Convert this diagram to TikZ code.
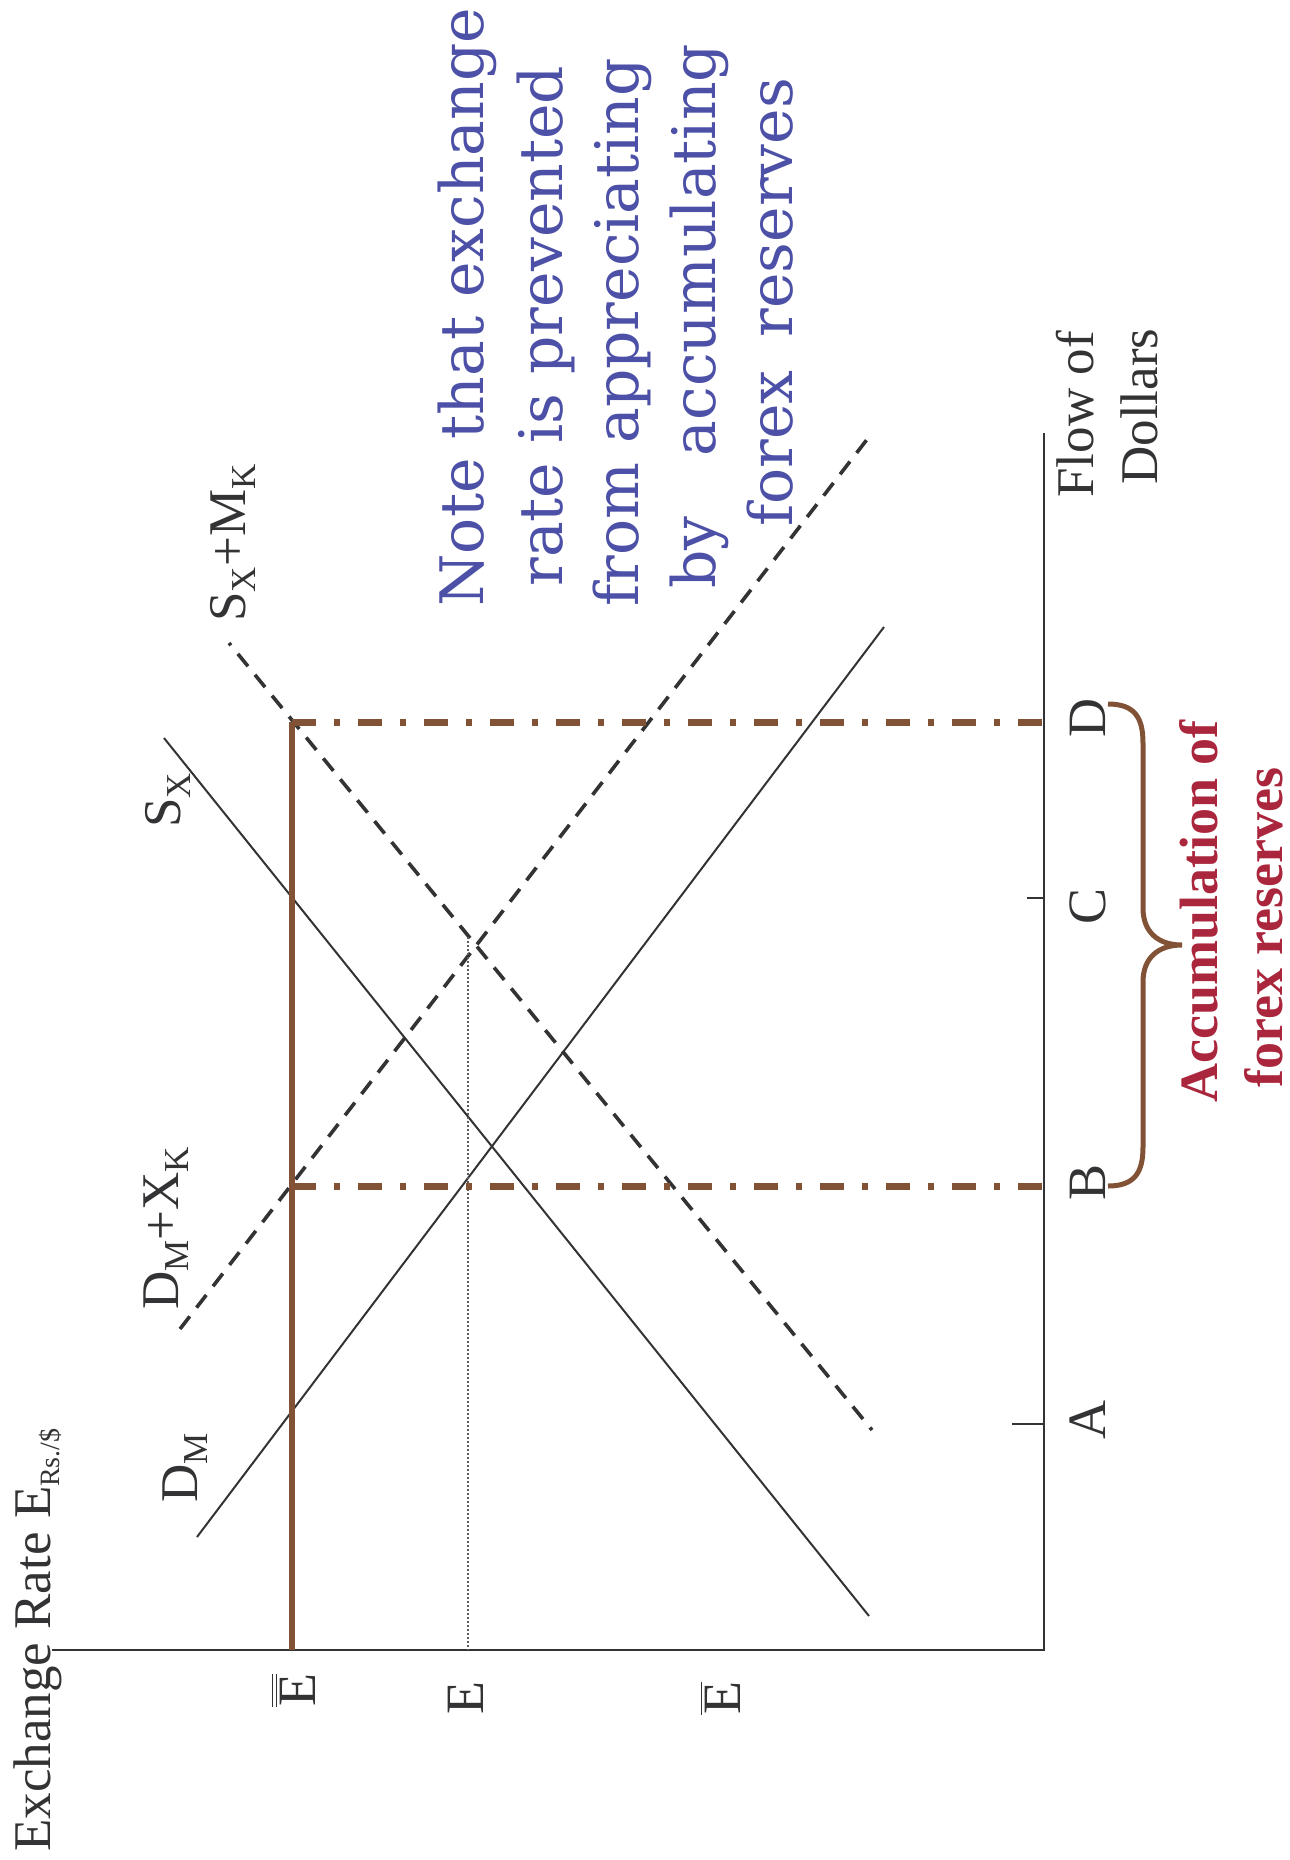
\documentclass[tikz,border=0pt]{standalone}
\usepackage{fontspec}
\setmainfont{Liberation Serif}
\newfontfamily\notefont{DejaVu Serif}
\usetikzlibrary{calc}
\definecolor{ink}{RGB}{51,51,53}
\definecolor{brn}{RGB}{130,82,54}
\definecolor{noteblue}{RGB}{76,80,166}
\definecolor{accred}{RGB}{170,38,60}
\newcommand{\lsub}[1]{\raisebox{-5pt}{\fontsize{17.5pt}{19pt}\selectfont #1}}
\newcommand{\ysub}[1]{\raisebox{-5pt}{\fontsize{14pt}{16pt}\selectfont #1}}
\begin{document}
\begin{tikzpicture}[x=0.5pt,y=-0.5pt,
  lbl/.style={rotate=90, anchor=base west, inner sep=0, text=ink, font=\fontsize{26.5pt}{32pt}\selectfont},
  tick/.style={rotate=90, anchor=base, inner sep=0, text=ink, font=\fontsize{27pt}{32pt}\selectfont},
  notel/.style={rotate=90, anchor=base west, inner sep=0, text=noteblue, font=\notefont\fontsize{30pt}{38pt}\selectfont},
  accl/.style={rotate=90, anchor=base west, inner sep=0, text=accred, font=\bfseries\fontsize{27pt}{32pt}\selectfont},
  axisline/.style={draw=ink, line width=1.1pt},
  curve/.style={draw=ink, line width=1pt},
  dcurve/.style={draw=ink, line width=1.8pt, dash pattern=on 8pt off 5.5pt},
  peg/.style={draw=brn, line width=3pt},
  dashdotbrn/.style={draw=brn, line width=3.5pt, dash pattern=on 12pt off 9pt on 3pt off 9pt},
  bracebrn/.style={draw=brn, line width=2.5pt},
  eqline/.style={draw=ink!80, line width=0.6pt, dash pattern=on 1pt off 1pt},
]
\useasboundingbox (0,0) rectangle (1290,1860);

% axes
\coordinate (O) at (1044,1650);
\coordinate (Xend) at (52,1650);
\coordinate (Yend) at (1044,433);
\draw[axisline] (Xend) -- (O) -- (Yend);
\coordinate (tA0) at (1012,1424); \coordinate (tA) at (1044,1424);
\coordinate (tC0) at (1027,898);  \coordinate (tC) at (1044,898);
\draw[axisline] (tA0) -- (tA);
\draw[axisline] (tC0) -- (tC);

% curves
\coordinate (dm1) at (197,1537);  \coordinate (dm2) at (884,627);
\coordinate (sx1) at (164,738);   \coordinate (sx2) at (869,1616);
\coordinate (dk1) at (180,1329);  \coordinate (dk2) at (872,433);
\coordinate (sk1) at (229,643);   \coordinate (sk2) at (872,1430);
\draw[curve] (dm1) -- (dm2);
\draw[curve] (sx1) -- (sx2);
\draw[dcurve] (dk1) -- (dk2);
\draw[dcurve, dash phase=6.5pt] (sk1) -- (sk2);

% equilibrium dotted line
\coordinate (eq) at (468,937); \coordinate (eqax) at (468,1650);
\draw[eqline] (eq) -- (eqax);

% pegged rate and reserve lines
\coordinate (pe) at (292,1650);
\coordinate (pd) at (292,722);
\coordinate (pb) at (292,1186);
\coordinate (dax) at (1044,722);
\coordinate (bax) at (1044,1186);
\draw[peg] (pe) -- (pd);
\draw[dashdotbrn] (pd) -- (dax);
\draw[dashdotbrn] (pb) -- (bax);

% brace
\coordinate (br1) at (1108,704);
\coordinate (brtip) at (1182,945);
\coordinate (br2) at (1108,1186);
\draw[bracebrn] (br1) .. controls (1135,704) and (1143,718) .. (1143,743)
  -- (1143,908) .. controls (1143,932) and (1158,945) .. (brtip)
  .. controls (1158,945) and (1143,958) .. (1143,982)
  -- (1143,1147) .. controls (1143,1172) and (1135,1186) .. (br2);

% labels
\node[lbl] (ylab) at (50,1852) {Exchange Rate E\ysub{Rs./\$}};
\node[lbl] (lDM) at (197,1503) {D\lsub{M}};
\node[lbl] (lDMXK) at (178,1310) {D\lsub{M}+X\lsub{K}};
\node[lbl] (lSX) at (180,828) {S\lsub{X}};
\node[lbl] (lSXMK) at (245,622) {S\lsub{X}+M\lsub{K}};

\node[tick] (lEbb) at (315,1690) {$\overline{\overline{\mbox{E}}}$};
\node[tick] (lE) at (483,1698) {E};
\node[tick] (lEb) at (740,1698) {$\overline{\mbox{E}}$};

\node[tick] (lA) at (1105,1420) {A};
\node[tick] (lB) at (1105,1182) {B};
\node[tick] (lC) at (1105,906) {C};
\node[tick] (lD) at (1105,718) {D};

\node[lbl] (flow1) at (1093,498) {Flow of};
\node[lbl] (flow2) at (1157,485) {Dollars};

\node[notel] (n1) at (483,607) {Note that exchange};
\node[notel] (n2) at (562,587) {rate is prevented};
\node[notel] (n3) at (638,607) {from appreciating};
\node[notel] (n4) at (715,589) {by\hspace{1em}accumulating};
\node[notel] (n5) at (792,527) {forex\hspace{0.55em}reserves};

\node[accl] (acc1) at (1217,1103) {Accumulation of};
\node[accl] (acc2) at (1282,1088) {forex reserves};
\end{tikzpicture}
\end{document}
